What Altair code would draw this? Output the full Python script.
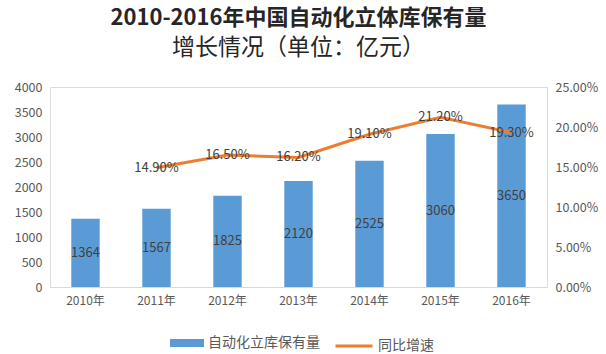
import altair as alt
import pandas as pd

years = ["2010年", "2011年", "2012年", "2013年", "2014年", "2015年", "2016年"]
stock = [1364, 1567, 1825, 2120, 2525, 3060, 3650]
growth = [None, 0.149, 0.165, 0.162, 0.191, 0.212, 0.193]
left_ticks = [0, 500, 1000, 1500, 2000, 2500, 3000, 3500, 4000]
right_ticks = [0, 0.05, 0.10, 0.15, 0.20, 0.25]

df = pd.DataFrame({"year": years, "stock": stock, "growth": growth})
df["half"] = df["stock"] / 2

FONT = "Noto Sans CJK SC"
GRAY = "#595959"
DARK = "#404040"
BLUE = "#5B9BD5"
ORANGE = "#ED7D31"

x = alt.X("year:N", sort=years,
          scale=alt.Scale(paddingInner=0.6, paddingOuter=0.3),
          axis=alt.Axis(title=None, labelAngle=0, labelFontSize=12, labelColor=GRAY,
                        labelFont=FONT, ticks=False, domainColor="#D9D9D9",
                        labelPadding=8, grid=False))

laxis = alt.Axis(title=None, values=left_ticks, format="d", labelFontSize=12.5,
                 labelColor=GRAY, labelFont=FONT, ticks=False, domain=False,
                 grid=False, labelPadding=8)
lscale = alt.Scale(domain=[0, 4000], nice=False)

bars = alt.Chart(df).mark_bar(color=BLUE).encode(
    x=x, y=alt.Y("stock:Q", scale=lscale, axis=laxis),
    fill=alt.Fill("k:N", scale=alt.Scale(domain=["自动化立库保有量"], range=[BLUE]),
                  legend=alt.Legend(title=None, orient="none", legendX=120, legendY=239,
                                    symbolType="M-1,-0.24H1V0.24H-1Z", symbolSize=1156,
                                    labelFontSize=14, labelColor=GRAY, labelFont=FONT,
                                    symbolStrokeWidth=0))
).transform_calculate(k="'自动化立库保有量'")

bar_text = alt.Chart(df).mark_text(fontSize=13, color=DARK, font=FONT).encode(
    x=x,
    y=alt.Y("half:Q", scale=lscale, axis=laxis),
    text=alt.Text("stock:Q", format="d"),
)

left = alt.layer(bars, bar_text)

raxis = alt.Axis(title=None, orient="right", values=right_ticks, format=".2%",
                 labelFontSize=12.5, labelColor=GRAY, labelFont=FONT, ticks=False,
                 domain=False, grid=False, labelPadding=8)
rscale = alt.Scale(domain=[0, 0.25], nice=False)

gdf = df.dropna(subset=["growth"])

line = alt.Chart(gdf).mark_line(strokeWidth=3).encode(
    x=x, y=alt.Y("growth:Q", scale=rscale, axis=raxis),
    stroke=alt.Stroke("k:N", scale=alt.Scale(domain=["同比增速"], range=[ORANGE]),
                      legend=alt.Legend(title=None, orient="none", legendX=284, legendY=239,
                                        symbolType="stroke", symbolSize=1369,
                                        symbolStrokeWidth=3,
                                        labelFontSize=14, labelColor=GRAY, labelFont=FONT))
).transform_calculate(k="'同比增速'")

line_text = alt.Chart(gdf).mark_text(fontSize=13, color=DARK, font=FONT).encode(
    x=x,
    y=alt.Y("growth:Q", scale=rscale, axis=raxis),
    text=alt.Text("growth:Q", format=".2%"),
)

right = alt.layer(line, line_text)

chart = alt.layer(left, right).resolve_scale(y="independent", fill="independent",
                                             stroke="independent").properties(
    width=497, height=200,
    padding={"left": 50, "top": 87, "right": 59, "bottom": 67},
    autosize=alt.AutoSizeParams(type="none"),
    title=alt.Title(text="2010-2016年中国自动化立体库保有量",
                    subtitle="增长情况（单位：亿元）",
                    fontSize=22, subtitleFontSize=23, font=FONT, subtitleFont=FONT,
                    fontWeight="bold", subtitleFontWeight="normal",
                    color="#262626", subtitleColor="#262626",
                    anchor="middle", offset=20, subtitlePadding=7),
).configure_view(stroke=None).configure(background="white")

chart.save("out.html", embed_options={"renderer": "svg", "actions": False})
